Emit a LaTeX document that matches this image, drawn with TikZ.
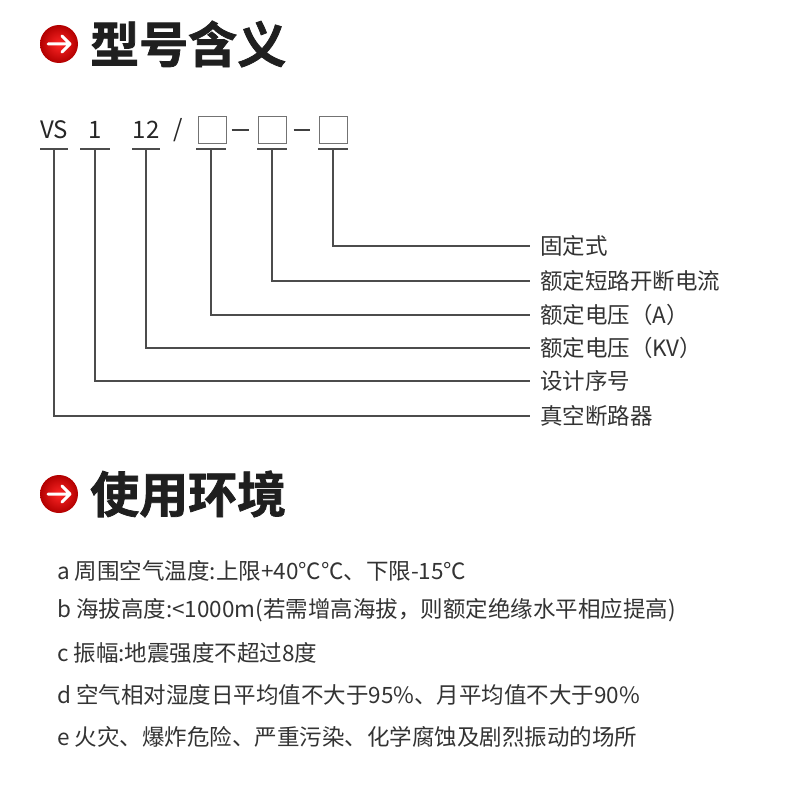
\documentclass[tikz,border=0pt]{standalone}
\usepackage{fontspec}
\setmainfont{Noto Sans CJK SC}
\newfontfamily\hdfont[FakeBold=1.5]{Noto Sans CJK SC Bold}
\begin{document}
\begin{tikzpicture}[x=1pt,y=-1pt,
  txt/.style={anchor=west,inner sep=0pt,text=black!80,font=\fontsize{22.5}{22.5}\selectfont},
  code/.style={inner sep=0pt,text=black!85,font=\fontsize{24}{24}\selectfont},
  hd/.style={anchor=west,inner sep=0pt,font=\hdfont\fontsize{49}{49}\selectfont,text=black!88},
  ln/.style={draw=black!70,line width=1.3pt},
  bx/.style={draw=black!55,line width=1pt,minimum width=28pt,minimum height=27pt,inner sep=0pt}]
\useasboundingbox (0,0) rectangle (800,800);
% headers
\foreach \y/\t/\n in {44/型号含义/h1,494/使用环境/h2}{
  \shade[inner color=red!85!white,outer color=red!70!black] (59,\y) circle (19);
  \draw[white,line width=3pt,line cap=round,line join=round] (48,\y) -- (70,\y) (62,\y-8) -- (70,\y) -- (62,\y+8);
  \node[hd] (\n) at (90,\y) {\t};
}
% code row
\node[code] (vs) at (54,130) {VS};
\node[code] (c1) at (95,130) {1};
\node[code] (c12) at (146,130) {12};
\node[code] (sl) at (178,130) {/};
\node[bx] (b1) at (212,130) {};
\node[bx] (b2) at (272,130) {};
\node[bx] (b3) at (333,130) {};
\draw[black!75,line width=1.2pt] (b1.east)++(5,0) -- ++(17,0) (b2.east)++(7,0) -- ++(16,0);
% underlines and leaders
\foreach \n/\x/\w/\y/\lab in {
  a/333/15/246/固定式,
  b/272/15/281/额定短路开断电流,
  c/211/15/315/额定电压（A）,
  d/146/14/348/额定电压（KV）,
  e/95/15/381/设计序号,
  f/54/14/416/真空断路器}{
  \draw[ln] (\x-\w,149) -- (\x+\w,149);
  \node[txt] (l\n) at (540,\y) {\lab};
  \coordinate (s\n) at (\x,149);
  \draw[ln] (s\n) |- (530,\y);
}
% environment list
\foreach \y/\t/\n in {
 571/a 周围空气温度:上限+40℃℃、下限-15℃/ta,
 610/b 海拔高度:<1000m(若需增高海拔，则额定绝缘水平相应提高)/tb,
 653/c 振幅:地震强度不超过8度/tc,
 695/d 空气相对湿度日平均值不大于95\%、月平均值不大于90\%/td,
 737/e 火灾、爆炸危险、严重污染、化学腐蚀及剧烈振动的场所/te}{
  \node[txt] (\n) at (57,\y) {\t};
}
\end{tikzpicture}
\end{document}
